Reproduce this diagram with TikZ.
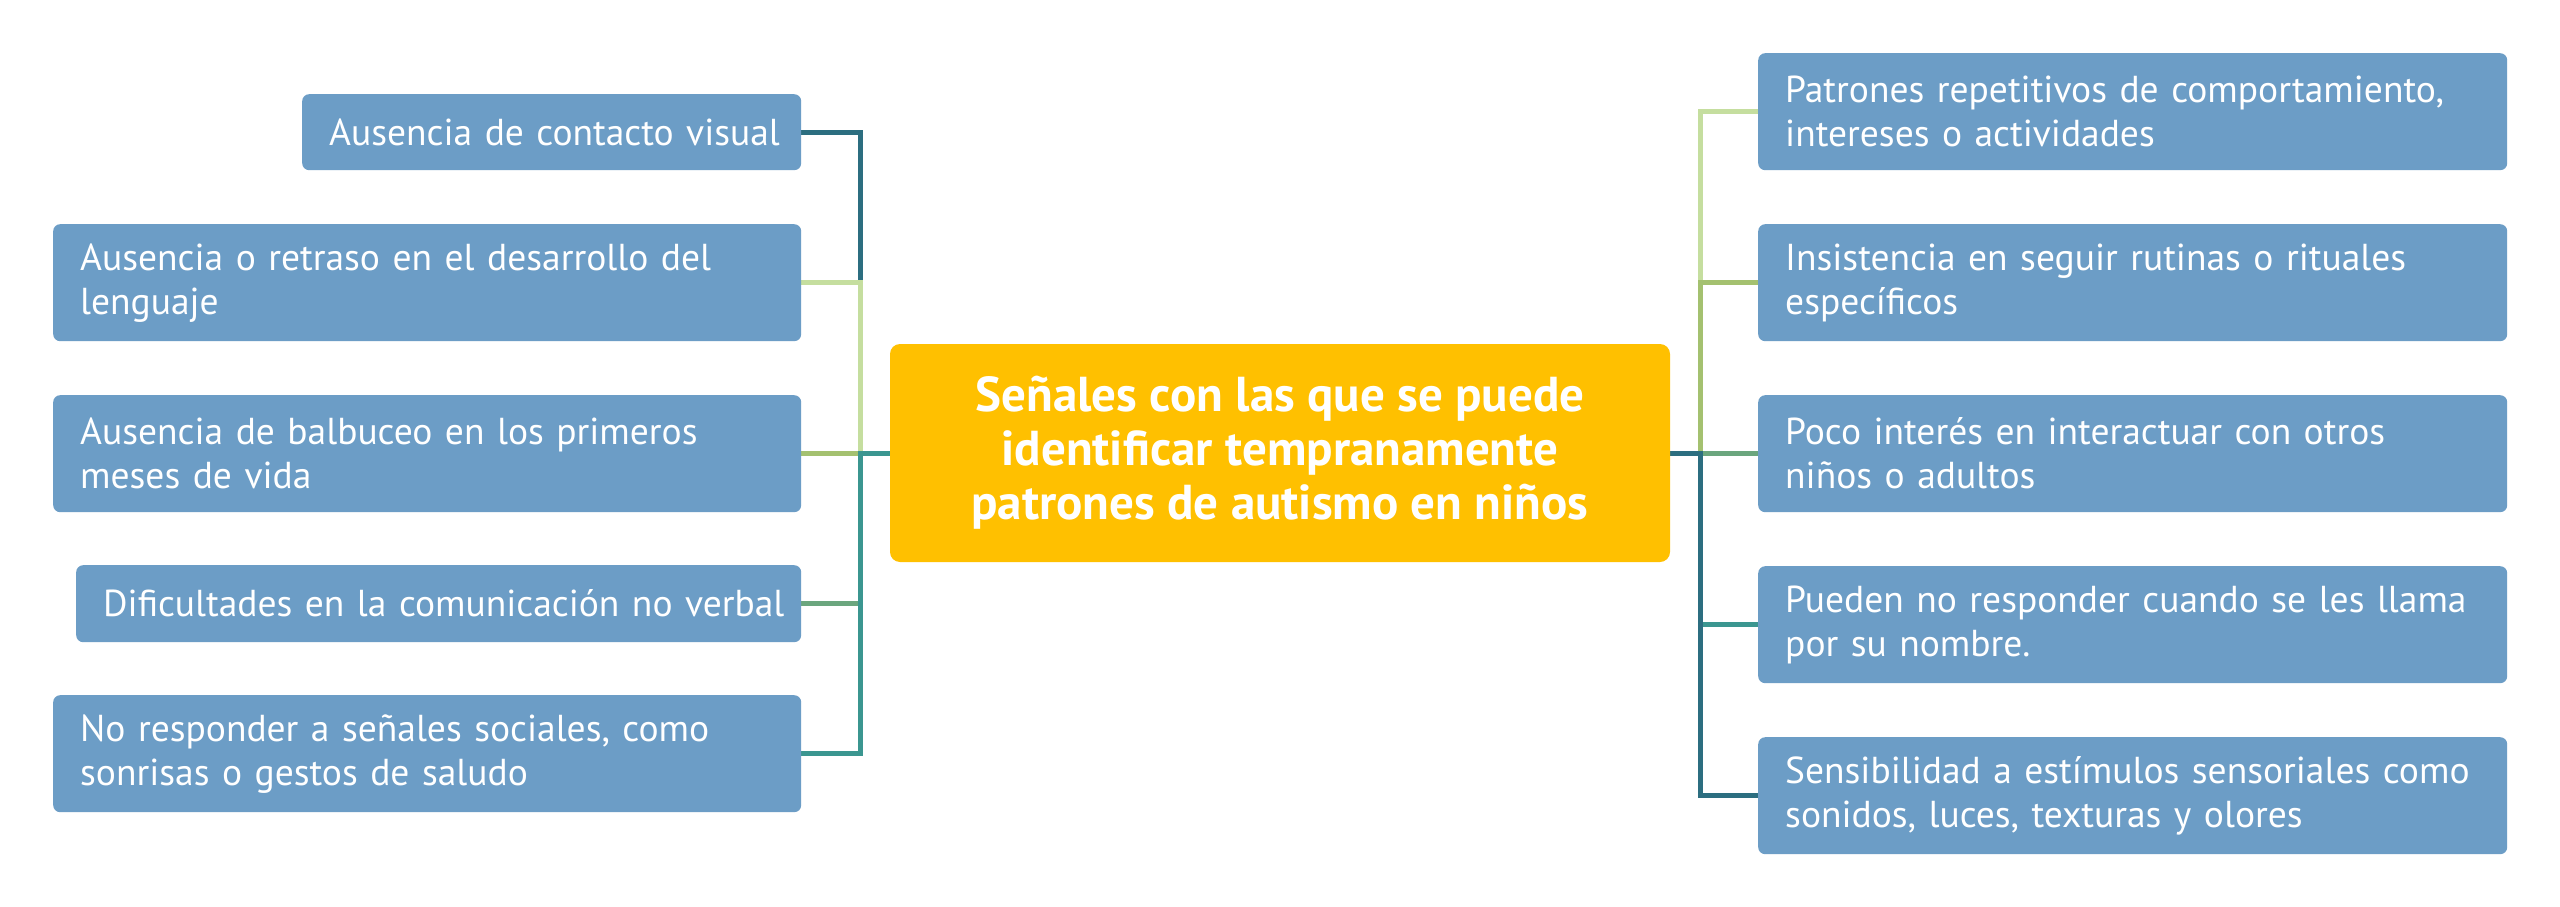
\documentclass[tikz,border=0pt]{standalone}
\usepackage{fontspec}
\setmainfont{PT Sans}
\usetikzlibrary{backgrounds}
\definecolor{boxblue}{HTML}{6C9DC6}
\definecolor{gold}{HTML}{FFC000}
\definecolor{lgreen}{HTML}{C5DE9F}
\definecolor{oliveg}{HTML}{A4C170}
\definecolor{mgreen}{HTML}{6BA67E}
\definecolor{tealc}{HTML}{3B9690}
\definecolor{dteal}{HTML}{2C6E80}
\begin{document}
\begin{tikzpicture}[x=1pt,y=-1pt,
  leaf/.style={fill=boxblue, rounded corners=7pt, text=white, anchor=north west,
    inner xsep=27pt, inner ysep=0pt, align=left,
    font=\fontsize{37.5}{44}\selectfont},
  hub/.style={fill=gold, rounded corners=10pt, text=white, align=center,
    minimum width=780pt, minimum height=218pt, inner sep=0pt,
    font=\bfseries\fontsize{49}{54}\selectfont},
  link/.style={line width=5pt}]
\useasboundingbox (0,0) rectangle (2560,907);
% centre
\node[hub] (hub) at (1280,453) {Señales con las que se puede\\identificar tempranamente\\patrones de autismo en niños};
% left
\node[leaf, text width=445pt, minimum height=76pt] (l1) at (302,94) {\mbox{Ausencia de contacto visual}};
\node[leaf, text width=694pt, minimum height=117pt] (l2) at (53,224) {\mbox{Ausencia o retraso en el desarrollo del}\\lenguaje};
\node[leaf, text width=694pt, minimum height=117pt] (l3) at (53,395) {\mbox{Ausencia de balbuceo en los primeros}\\meses de vida};
\node[leaf, text width=671pt, minimum height=77pt] (l4) at (76,565) {\mbox{Dificultades en la comunicación no verbal}};
\node[leaf, text width=694pt, minimum height=117pt] (l5) at (53,695) {\mbox{No responder a señales sociales, como}\\sonrisas o gestos de saludo};
% right
\node[leaf, text width=695pt, minimum height=117pt] (r1) at (1758,53) {\mbox{Patrones repetitivos de comportamiento,}\\intereses o actividades};
\node[leaf, text width=695pt, minimum height=117pt] (r2) at (1758,224) {\mbox{Insistencia en seguir rutinas o rituales}\\específicos};
\node[leaf, text width=695pt, minimum height=117pt] (r3) at (1758,395) {\mbox{Poco interés en interactuar con otros}\\niños o adultos};
\node[leaf, text width=695pt, minimum height=117pt] (r4) at (1758,566) {\mbox{Pueden no responder cuando se les llama}\\por su nombre.};
\node[leaf, text width=695pt, minimum height=117pt] (r5) at (1758,737) {\mbox{Sensibilidad a estímulos sensoriales como}\\sonidos, luces, texturas y olores};
% junctions
\coordinate (jL) at (860,453);
\coordinate (jR) at (1700,453);
\begin{pgfonlayer}{background}
\fill[white] (0,0) rectangle (2560,907);
\draw[link, dteal]  (hub.west) -- (jL) |- (l1.east);
\draw[link, lgreen] (hub.west) -- (jL) |- (l2.east);
\draw[link, oliveg] (hub.west) -- (jL) |- (l3.east);
\draw[link, mgreen] (hub.west) -- (jL) |- (l4.east);
\draw[link, tealc]  (hub.west) -- (jL) |- (l5.east);
\draw[link, lgreen] (hub.east) -- (jR) |- (r1.west);
\draw[link, oliveg] (hub.east) -- (jR) |- (r2.west);
\draw[link, mgreen] (hub.east) -- (jR) |- (r3.west);
\draw[link, tealc]  (hub.east) -- (jR) |- (r4.west);
\draw[link, dteal]  (hub.east) -- (jR) |- (r5.west);
\end{pgfonlayer}
\end{tikzpicture}
\end{document}
